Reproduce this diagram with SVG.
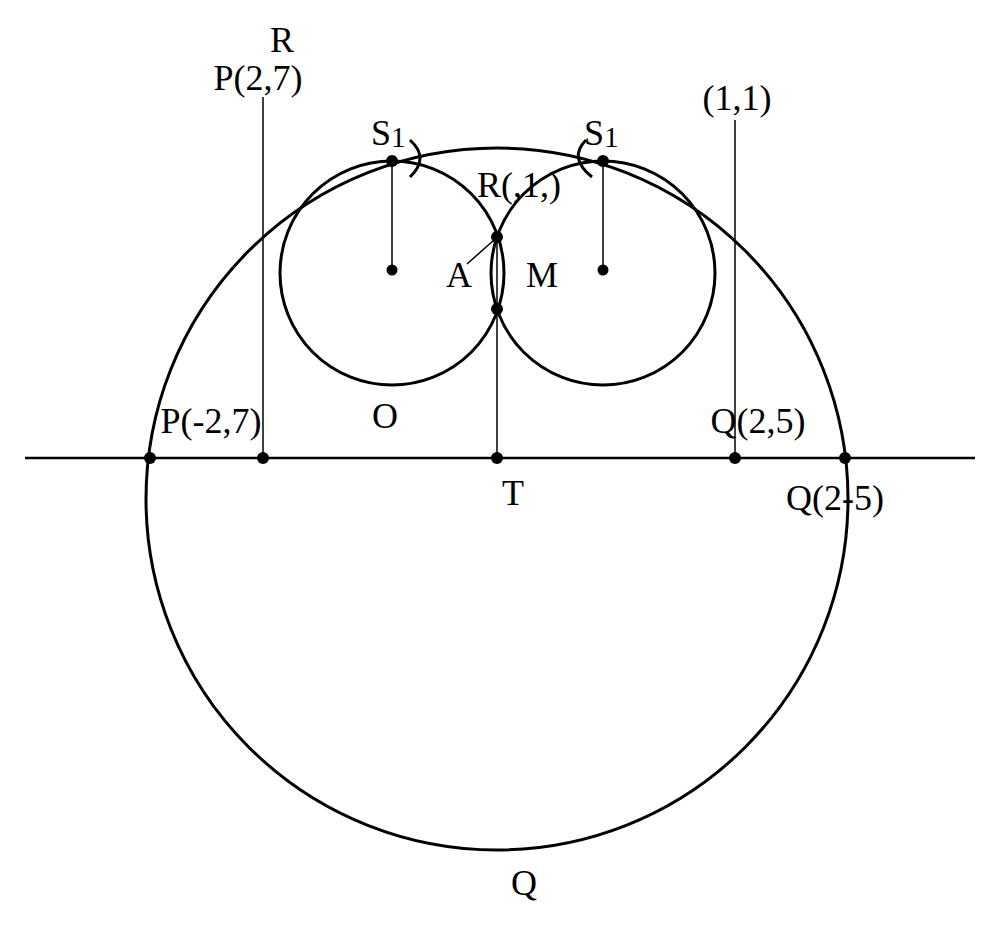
<svg xmlns="http://www.w3.org/2000/svg" width="1000" height="931" viewBox="0 0 1000 931">
<style>
.c{fill:none;stroke:#000;stroke-width:3}
.l{stroke:#000;stroke-width:1.5}
.h{stroke:#000;stroke-width:2.5}
.d{fill:#000}
text{font-family:"Liberation Serif","Times New Roman",serif;font-size:36px;fill:#000}
.m{text-anchor:middle}
</style>
<rect width="1000" height="931" fill="#fff"/>
<g id="connectors">
<line class="h" x1="25" y1="458" x2="975" y2="458"/>
<line class="l" x1="263" y1="97" x2="263" y2="458"/>
<line class="l" x1="735" y1="120" x2="735" y2="458"/>
<line class="l" x1="392" y1="161" x2="392" y2="270"/>
<line class="l" x1="603" y1="161" x2="603" y2="270"/>
<line class="l" x1="497" y1="237" x2="497" y2="458"/>
<line class="l" x1="467" y1="264" x2="494" y2="240"/>
<path class="c" d="M410 140 Q430 158 410 177" stroke-width="2"/>
<path class="c" d="M586 140 Q568 158 592 177" stroke-width="2"/>
</g>
<g id="bigCircle"><circle class="c" cx="497" cy="499" r="351"/></g>
<g id="circleO"><circle class="c" cx="392" cy="273" r="112"/></g>
<g id="circleM"><circle class="c" cx="603" cy="273" r="112"/></g>
<g id="points">
<circle class="d" cx="150" cy="458" r="6"/>
<circle class="d" cx="263" cy="458" r="6"/>
<circle class="d" cx="497" cy="458" r="6"/>
<circle class="d" cx="735" cy="458" r="6"/>
<circle class="d" cx="845" cy="458" r="6"/>
<circle class="d" cx="392" cy="161" r="6"/>
<circle class="d" cx="603" cy="161" r="6"/>
<circle class="d" cx="392" cy="270" r="5.5"/>
<circle class="d" cx="603" cy="270" r="5.5"/>
<circle class="d" cx="497" cy="237" r="6"/>
<circle class="d" cx="497" cy="309" r="6"/>
</g>
<g id="labels">
<text class="m" x="282" y="52">R</text>
<text class="m" x="258" y="90">P(2,7)</text>
<text x="371" y="145">S<tspan font-size="29" dy="2">1</tspan></text>
<text x="584" y="145">S<tspan font-size="29" dy="2">1</tspan></text>
<text class="m" x="737" y="110">(1,1)</text>
<text x="477" y="197">R(,1,)</text>
<text class="m" x="459" y="287">A</text>
<text class="m" x="542" y="287">M</text>
<text class="m" x="385" y="428">O</text>
<text class="m" x="211" y="433">P(-2,7)</text>
<text class="m" x="758" y="433">Q(2,5)</text>
<text class="m" x="513" y="505">T</text>
<text class="m" x="835" y="510">Q(2-5)</text>
<text class="m" x="524" y="895">Q</text>
</g>
</svg>
